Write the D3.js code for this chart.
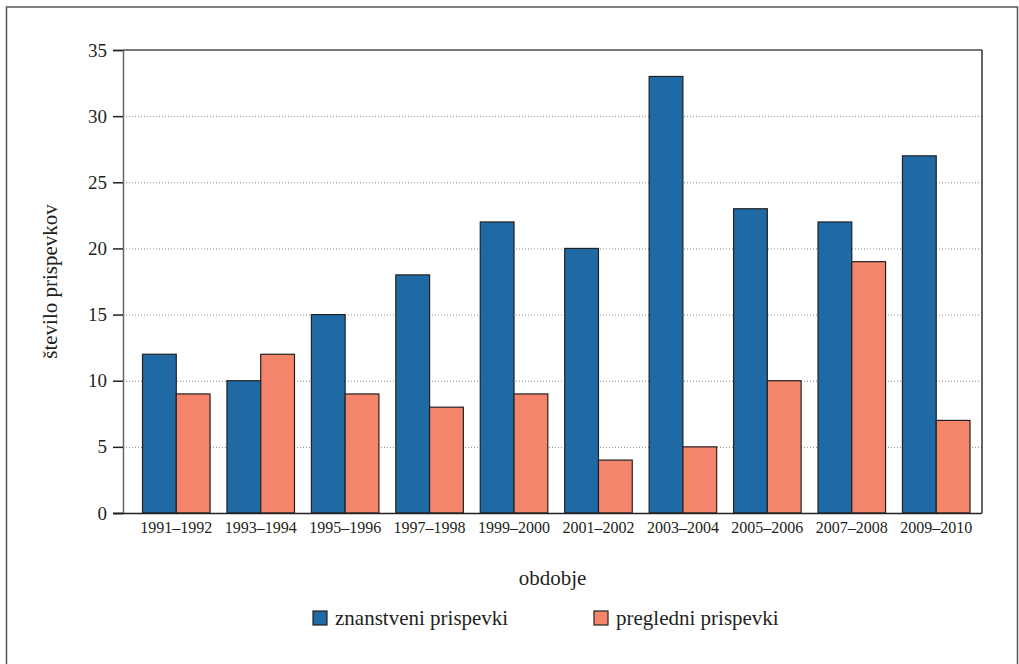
<!DOCTYPE html>
<html>
<head>
<meta charset="utf-8">
<script src="https://cdn.jsdelivr.net/npm/d3@7"></script>
<style>
  body { margin: 0; background: #fff; }
</style>
</head>
<body>
<div id="wrapper"></div>
<script>
// data
const periods = ["1991–1992", "1993–1994", "1995–1996", "1997–1998", "1999–2000",
                 "2001–2002", "2003–2004", "2005–2006", "2007–2008", "2009–2010"];
const scientific = [12, 10, 15, 18, 22, 20, 33, 23, 22, 27];
const review = [9, 12, 9, 8, 9, 4, 5, 10, 19, 7];
const yTicks = [0, 5, 10, 15, 20, 25, 30, 35];
const seriesNames = ["znanstveni prispevki", "pregledni prispevki"];
const colors = ["#1f6aa5", "#f4846a"];

const serif = "'Liberation Serif', 'DejaVu Serif', serif";
const ink = "#231f20";

function buildPlot() {
    const dimention = { width: 1019, height: 664 };
    const plot = { left: 123, right: 982, top: 50, bottom: 513 };

    const svg = d3.select("#wrapper").append("svg")
        .attr("width", dimention.width)
        .attr("height", dimention.height);

    // outer frame (left + top + right, bottom runs off the page)
    svg.append("path")
        .attr("d", "M6.5,664 V7 H1017.5 V664")
        .attr("fill", "none")
        .attr("stroke", "#555")
        .attr("stroke-width", 1.5);

    const yScaler = d3.scaleLinear()
        .domain([0, 35])
        .range([plot.bottom, plot.top]);

    const xScaler = d3.scaleBand()
        .domain(periods)
        .range([142.5, 970])
        .paddingInner(0.2)
        .paddingOuter(0);

    const inner = d3.scaleBand()
        .domain([0, 1])
        .range([0, xScaler.bandwidth()]);

    // dotted gridlines
    svg.append("g")
        .selectAll("line")
        .data(yTicks.filter(d => d > 0 && d < 35))
        .join("line")
        .attr("x1", plot.left)
        .attr("x2", plot.right)
        .attr("y1", d => yScaler(d) + 0.5)
        .attr("y2", d => yScaler(d) + 0.5)
        .attr("stroke", "#8a8a8a")
        .attr("stroke-width", 1)
        .attr("stroke-dasharray", "1,2");

    // top and right borders
    svg.append("line")
        .attr("x1", plot.left).attr("x2", plot.right)
        .attr("y1", plot.top).attr("y2", plot.top)
        .attr("stroke", "#777").attr("stroke-width", 2);
    svg.append("line")
        .attr("x1", plot.right).attr("x2", plot.right)
        .attr("y1", plot.top).attr("y2", plot.bottom)
        .attr("stroke", "#333").attr("stroke-width", 1.5);

    // bars
    const groups = svg.append("g")
        .selectAll("g")
        .data(periods)
        .join("g")
        .attr("transform", d => `translate(${xScaler(d)},0)`);

    groups.selectAll("rect")
        .data((d, i) => [scientific[i], review[i]])
        .join("rect")
        .attr("x", (d, j) => inner(j))
        .attr("y", d => yScaler(d))
        .attr("width", inner.bandwidth())
        .attr("height", d => plot.bottom - yScaler(d))
        .attr("fill", (d, j) => colors[j])
        .attr("stroke", "#222")
        .attr("stroke-width", 1.2);

    // left axis
    const yAxis = svg.append("g")
        .attr("transform", `translate(${plot.left},0)`)
        .call(d3.axisLeft(yScaler).tickValues(yTicks).tickSize(10).tickPadding(6));
    yAxis.attr("font-family", null);
    yAxis.select(".domain").attr("stroke", "#666").attr("stroke-width", 1.5);
    yAxis.selectAll(".tick line").attr("stroke", "#222").attr("stroke-width", 1.5);
    yAxis.selectAll(".tick text")
        .style("font-family", serif)
        .style("font-size", "19px")
        .attr("fill", ink);

    // bottom axis
    const xAxis = svg.append("g")
        .attr("transform", `translate(0,${plot.bottom})`)
        .call(d3.axisBottom(xScaler).tickSize(0).tickPadding(9));
    xAxis.attr("font-family", null);
    xAxis.select(".domain")
        .attr("d", `M${plot.left - 10},0.5H${plot.right}`)
        .attr("stroke", "#222").attr("stroke-width", 1.5);
    xAxis.selectAll(".tick text")
        .style("font-family", serif)
        .style("font-size", "16px")
        .attr("fill", ink);

    // axis titles
    svg.append("text")
        .attr("transform", `translate(57,${(plot.top + plot.bottom) / 2}) rotate(-90)`)
        .attr("text-anchor", "middle")
        .style("font-family", serif)
        .style("font-size", "21px")
        .attr("fill", ink)
        .text("število prispevkov");

    svg.append("text")
        .attr("x", (plot.left + plot.right) / 2)
        .attr("y", 585)
        .attr("text-anchor", "middle")
        .style("font-family", serif)
        .style("font-size", "21px")
        .attr("fill", ink)
        .text("obdobje");

    // legend
    const legendX = [313, 594];
    const legend = svg.append("g")
        .selectAll("g")
        .data(seriesNames)
        .join("g")
        .attr("transform", (d, i) => `translate(${legendX[i]},611)`);
    legend.append("rect")
        .attr("width", 14)
        .attr("height", 14)
        .attr("fill", (d, i) => colors[i])
        .attr("stroke", "#222")
        .attr("stroke-width", 1.2);
    legend.append("text")
        .attr("x", 22)
        .attr("y", 14)
        .style("font-family", serif)
        .style("font-size", "21px")
        .attr("fill", ink)
        .text(d => d);
}

buildPlot();
</script>
</body>
</html>
